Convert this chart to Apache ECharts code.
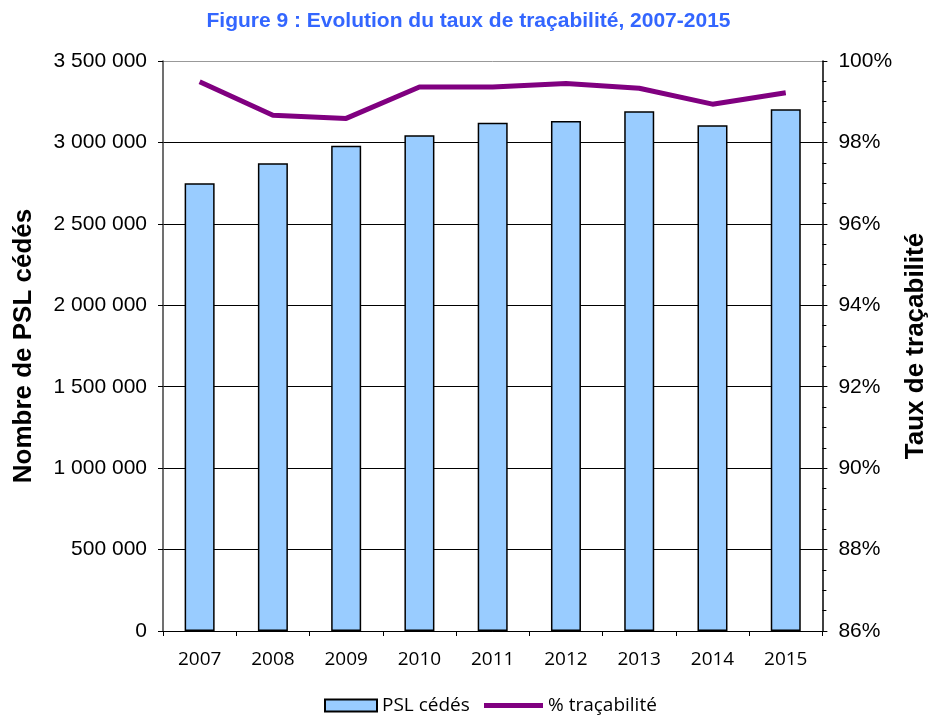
<!DOCTYPE html>
<html>
<head>
<meta charset="utf-8">
<script src="https://cdn.jsdelivr.net/npm/echarts@6/dist/echarts.min.js"></script>
<style>
    html, body { margin: 0; padding: 0; background: #fff; }
    #chart { width: 937px; height: 720px; }
</style>
</head>
<body>
<div id="chart"></div>
<script>
    const years = ['2007', '2008', '2009', '2010', '2011', '2012', '2013', '2014', '2015'];
    const pslCedes = [2749000, 2872000, 2980000, 3044000, 3121000, 3132000, 3191000, 3105000, 3203000];
    const tracabilite = [99.49, 98.67, 98.59, 99.36, 99.36, 99.45, 99.33, 98.94, 99.22];

    const fmtThousands = v => String(v).replace(/\B(?=(\d{3})+(?!\d))/g, ' ');

    const legendText = {
        fontFamily: 'Open Sans',
        fontSize: 19,
        color: '#000'
    };

    const e = echarts.init(document.getElementById('chart'));
    e.setOption({
        animation: false,
        title: {
            text: 'Figure 9 : Evolution du taux de traçabilité, 2007-2015',
            left: 'center',
            top: 6,
            textStyle: {
                color: '#3366FF',
                fontFamily: 'Liberation Sans, Arial',
                fontWeight: 'bold',
                fontSize: 21
            }
        },
        legend: [
            {
                left: 319,
                top: 691,
                itemWidth: 52,
                itemHeight: 12,
                textStyle: legendText,
                data: [{name: 'PSL cédés', icon: 'rect'}]
            },
            {
                left: 479,
                top: 691,
                itemWidth: 59,
                itemHeight: 5,
                textStyle: legendText,
                data: [{name: '% traçabilité', icon: 'rect'}]
            }
        ],
        grid: {
            left: 163,
            right: 104,
            top: 61,
            bottom: 89
        },
        xAxis: [
            {
                type: 'category',
                data: years,
                axisLine: {lineStyle: {color: '#000', width: 1}},
                axisTick: {show: true, length: 5, lineStyle: {color: '#000'}},
                axisLabel: {
                    margin: 19,
                    fontFamily: 'Open Sans',
                    fontSize: 19,
                    color: '#000'
                }
            }
        ],
        yAxis: [
            {
                type: 'value',
                min: 0,
                max: 3500000,
                interval: 500000,
                name: 'Nombre de PSL cédés',
                nameLocation: 'middle',
                nameGap: 126,
                nameTextStyle: {
                    fontFamily: 'Liberation Sans, Arial',
                    fontWeight: 'bold',
                    fontSize: 26,
                    color: '#000'
                },
                axisLine: {show: true, lineStyle: {color: '#404040', width: 1.5}},
                axisTick: {show: true, length: 5, lineStyle: {color: '#000'}},
                axisLabel: {
                    margin: 16,
                    fontFamily: 'Liberation Sans, Arial',
                    fontSize: 21,
                    color: '#000',
                    formatter: v => fmtThousands(v)
                },
                splitLine: {
                    show: true,
                    lineStyle: {
                        color: ['#000', '#000', '#000', '#000', '#000', '#000', '#000', '#999'],
                        width: 1
                    }
                }
            },
            {
                type: 'value',
                min: 86,
                max: 100,
                interval: 2,
                name: 'Taux de traçabilité',
                nameLocation: 'middle',
                nameGap: 79,
                nameRotate: 90,
                nameTextStyle: {
                    fontFamily: 'Liberation Sans, Arial',
                    fontWeight: 'bold',
                    fontSize: 26,
                    color: '#000'
                },
                axisLine: {show: true, lineStyle: {color: '#000', width: 1.5}},
                axisTick: {show: true, length: 5, lineStyle: {color: '#000'}},
                minorTick: {show: true, splitNumber: 4, length: 4, lineStyle: {color: '#000'}},
                axisLabel: {
                    margin: 16,
                    fontFamily: 'Liberation Sans, Arial',
                    fontSize: 21,
                    color: '#000',
                    formatter: '{value}%'
                },
                splitLine: {show: false}
            }
        ],
        series: [
            {
                name: 'PSL cédés',
                type: 'bar',
                barWidth: 30,
                data: pslCedes,
                itemStyle: {
                    color: '#99CCFF',
                    borderColor: '#000',
                    borderWidth: 1.5
                }
            },
            {
                name: '% traçabilité',
                type: 'line',
                yAxisIndex: 1,
                data: tracabilite,
                symbol: 'none',
                lineStyle: {color: '#800080', width: 5},
                itemStyle: {color: '#800080'}
            }
        ]
    });
</script>
</body>
</html>
